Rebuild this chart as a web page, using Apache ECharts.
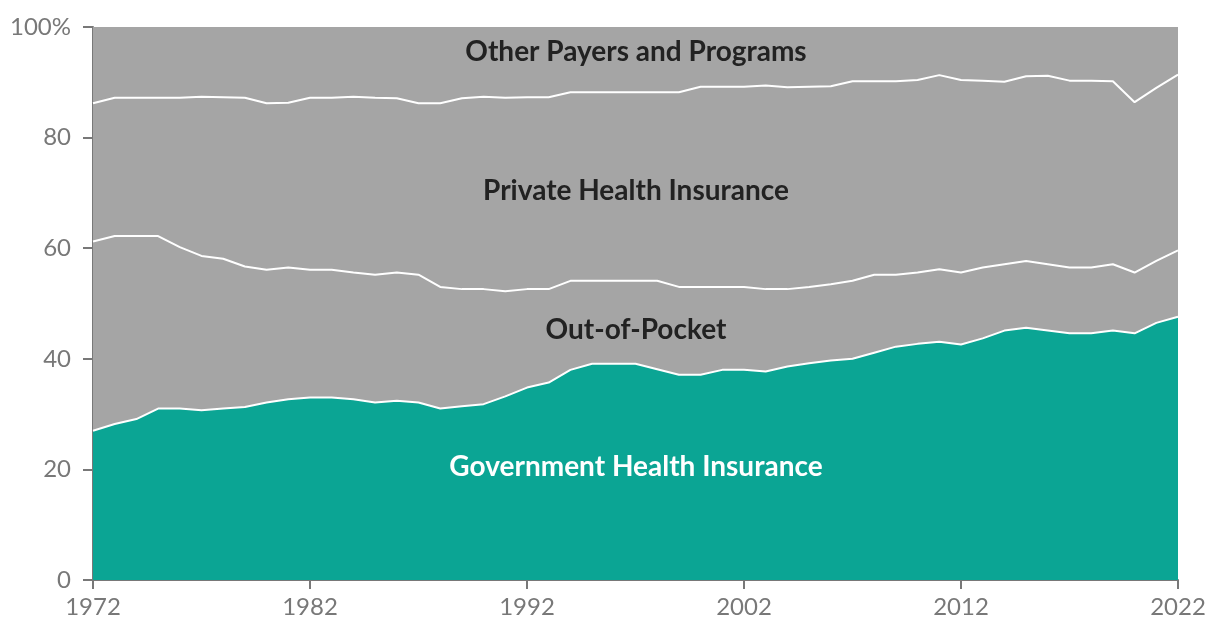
<!DOCTYPE html>
<html>
<head>
<meta charset="utf-8">
<script src="https://cdn.jsdelivr.net/npm/echarts@6/dist/echarts.min.js"></script>
<style>
  html, body { margin: 0; padding: 0; background: #ffffff; }
  #chart { width: 1220px; height: 642px; }
</style>
</head>
<body>
<div id="chart"></div>
<script>
// Years 1972–2022
const years = ['1972','1973','1974','1975','1976','1977','1978','1979','1980','1981','1982','1983','1984','1985','1986','1987','1988','1989','1990','1991','1992','1993','1994','1995','1996','1997','1998','1999','2000','2001','2002','2003','2004','2005','2006','2007','2008','2009','2010','2011','2012','2013','2014','2015','2016','2017','2018','2019','2020','2021','2022'];

// Shares of spending (%)
const government = [27.0,28.2,29.1,31.0,31.0,30.7,31.0,31.3,32.1,32.7,33.0,33.0,32.7,32.1,32.4,32.1,31.0,31.4,31.8,33.2,34.8,35.7,38.0,39.1,39.1,39.1,38.1,37.1,37.1,38.0,38.0,37.7,38.6,39.2,39.7,40.0,41.1,42.2,42.7,43.1,42.6,43.7,45.1,45.6,45.1,44.6,44.6,45.1,44.6,46.5,47.6];
const outOfPocket = [34.2,34.0,33.1,31.2,29.2,27.9,27.1,25.4,24.0,23.8,23.1,23.1,22.9,23.1,23.2,23.1,22.0,21.2,20.8,19.0,17.8,16.9,16.1,15.0,15.0,15.0,16.0,15.9,15.9,15.0,15.0,14.9,14.0,13.8,13.8,14.1,14.1,13.0,12.9,13.1,13.0,12.8,12.0,12.1,12.0,11.9,11.9,12.0,11.0,11.2,12.0];
const privateIns = [25.0,25.0,25.0,25.0,27.0,28.8,29.2,30.5,30.1,29.8,31.1,31.1,31.8,32.0,31.5,31.0,33.2,34.5,34.8,35.0,34.7,34.7,34.1,34.1,34.1,34.1,34.1,35.2,36.2,36.2,36.2,36.8,36.5,36.2,35.8,36.1,35.0,35.0,34.8,35.1,34.8,33.8,33.0,33.4,34.1,33.8,33.8,33.1,30.8,31.3,31.8];
const otherPayers = [13.8,12.8,12.8,12.8,12.8,12.6,12.7,12.8,13.8,13.7,12.8,12.8,12.6,12.8,12.9,13.8,13.8,12.9,12.6,12.8,12.7,12.7,11.8,11.8,11.8,11.8,11.8,11.8,10.8,10.8,10.8,10.6,10.9,10.8,10.7,9.8,9.8,9.8,9.6,8.7,9.6,9.7,9.9,8.9,8.8,9.7,9.7,9.8,13.6,11.0,8.6];

const seriesNames = ['Government Health Insurance','Out-of-Pocket','Private Health Insurance','Other Payers and Programs'];
const xTickLabels = ['1972','1982','1992','2002','2012','2022'];
const yTicks = [0,20,40,60,80,100];

const TEAL = '#0ba594';
const GRAY = '#a5a5a5';
const AXIS = '#787878';

const areaSeries = (name, arr, color) => ({
  name, type: 'line', stack: 'area', data: arr,
  symbol: 'none', showSymbol: false, silent: true, z: 2,
  lineStyle: { width: 0, opacity: 0 },
  areaStyle: { color: color, opacity: 1 }
});
const lineSeries = (name, arr) => ({
  name: name + ' line', type: 'line', stack: 'lines', data: arr,
  symbol: 'none', showSymbol: false, silent: true, z: 3,
  lineStyle: { color: '#ffffff', width: 2 }
});

const chart = echarts.init(document.getElementById('chart'), null, { renderer: 'canvas' });
chart.setOption({
  animation: false,
  backgroundColor: '#ffffff',
  grid: { left: 93, right: 42, top: 27, bottom: 62, containLabel: false },
  xAxis: {
    type: 'category', data: years, boundaryGap: false,
    axisLine: { show: true, lineStyle: { color: AXIS, width: 2 } },
    axisTick: { show: true, length: 9, interval: 9, alignWithLabel: true, lineStyle: { color: AXIS, width: 2 } },
    splitLine: { show: false },
    axisLabel: {
      color: AXIS, fontFamily: 'Lato', fontSize: 24, margin: 15, interval: 9,
      formatter: v => (xTickLabels.indexOf(v) >= 0 ? v : '')
    }
  },
  yAxis: {
    type: 'value', min: 0, max: 100, interval: 20,
    axisLine: { show: true, lineStyle: { color: AXIS, width: 2 } },
    axisTick: { show: true, length: 10, lineStyle: { color: AXIS, width: 2 } },
    splitLine: { show: false },
    axisLabel: {
      color: AXIS, fontFamily: 'Lato', fontSize: 24, margin: 22,
      formatter: v => (yTicks.indexOf(v) >= 0 ? (v === 100 ? '100%' : String(v)) : '')
    }
  },
  series: [
    areaSeries(seriesNames[0], government, TEAL),
    areaSeries(seriesNames[1], outOfPocket, GRAY),
    areaSeries(seriesNames[2], privateIns, GRAY),
    areaSeries(seriesNames[3], otherPayers, GRAY),
    lineSeries(seriesNames[0], government),
    lineSeries(seriesNames[1], outOfPocket),
    lineSeries(seriesNames[2], privateIns)
  ],
  graphic: [
    { type: 'text', x: 636, y: 52, z: 10,
      style: { text: seriesNames[3], fill: '#222222', font: 'bold 28px Lato', textAlign: 'center', textVerticalAlign: 'middle' } },
    { type: 'text', x: 636, y: 191, z: 10,
      style: { text: seriesNames[2], fill: '#222222', font: 'bold 28px Lato', textAlign: 'center', textVerticalAlign: 'middle' } },
    { type: 'text', x: 636, y: 330, z: 10,
      style: { text: seriesNames[1], fill: '#222222', font: 'bold 28px Lato', textAlign: 'center', textVerticalAlign: 'middle' } },
    { type: 'text', x: 636, y: 467, z: 10,
      style: { text: seriesNames[0], fill: '#ffffff', font: 'bold 28px Lato', textAlign: 'center', textVerticalAlign: 'middle' } }
  ]
});
</script>
</body>
</html>
